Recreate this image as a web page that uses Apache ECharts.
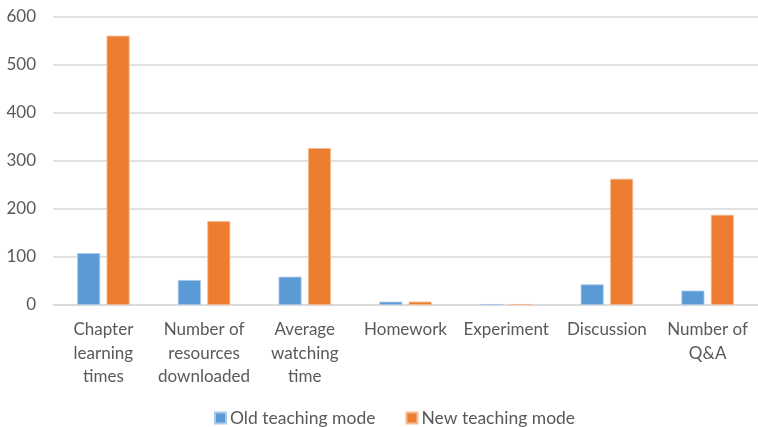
<!DOCTYPE html>
<html>
<head>
<meta charset="utf-8">
<script src="https://cdn.jsdelivr.net/npm/echarts@6/dist/echarts.min.js"></script>
<style>html,body{margin:0;padding:0;background:#fff}#c{width:758px;height:427px}</style>
</head>
<body>
<div id="c"></div>
<script>
const categories = ["Chapter\nlearning\ntimes", "Number of\nresources\ndownloaded", "Average\nwatching\ntime", "Homework", "Experiment", "Discussion", "Number of\nQ&A"];
const oldMode = [108, 52, 59, 7, 2, 43, 30];
const newMode = [561, 175, 327, 7, 2, 263, 188];
const seriesNames = ["Old teaching mode", "New teaching mode"];
const yTicks = [0, 100, 200, 300, 400, 500, 600];

const font = "Lato, 'Open Sans', sans-serif";
const chart = echarts.init(document.getElementById('c'), null, {renderer: 'canvas'});
chart.setOption({
  animation: false,
  backgroundColor: '#fff',
  grid: {left: 53, right: -5, top: 17, bottom: 122, containLabel: false},
  legend: {
    bottom: 0, left: 214, padding: 0,
    itemWidth: 11, itemHeight: 11, itemGap: 30,
    icon: 'rect',
    textStyle: {fontFamily: font, fontSize: 17.5, color: '#595959', padding: [0, 0, 0, -1]},
    data: seriesNames
  },
  xAxis: {
    type: 'category',
    data: categories,
    axisLine: {show: true, lineStyle: {color: '#d9d9d9', width: 1.5}},
    axisTick: {show: false},
    axisLabel: {fontFamily: font, fontSize: 17, color: '#595959', lineHeight: 23.5, margin: 13, interval: 0}
  },
  yAxis: {
    type: 'value',
    min: yTicks[0], max: yTicks[yTicks.length - 1], interval: 100,
    axisLine: {show: false},
    axisTick: {show: false},
    splitLine: {lineStyle: {color: '#d9d9d9', width: 1.5}},
    axisLabel: {fontFamily: font, fontSize: 17, color: '#595959', margin: 17}
  },
  series: [
    {name: seriesNames[0], type: 'bar', data: oldMode, barWidth: 23, barGap: '28%',
     itemStyle: {color: '#5b9bd5', borderColor: '#a9c9ea', borderWidth: 0.8}},
    {name: seriesNames[1], type: 'bar', data: newMode, barWidth: 23,
     itemStyle: {color: '#ed7d31', borderColor: '#f6bb94', borderWidth: 0.8}}
  ]
});
</script>
</body>
</html>
